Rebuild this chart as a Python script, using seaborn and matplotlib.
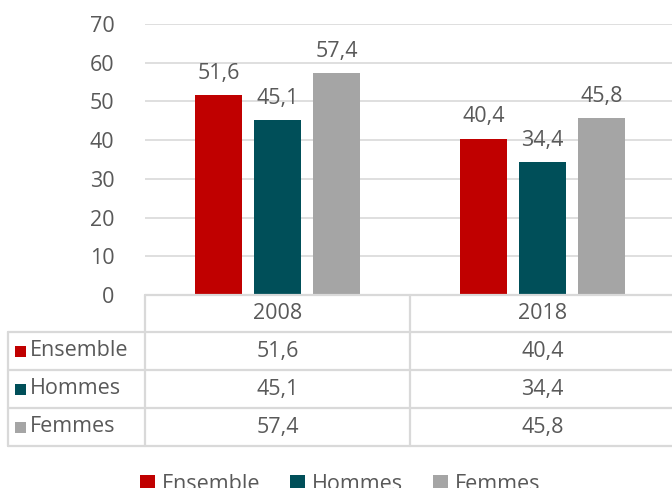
import matplotlib
matplotlib.use("Agg")
import matplotlib.pyplot as plt
import seaborn as sns
import pandas as pd
from matplotlib.lines import Line2D
from matplotlib.patches import Rectangle

years = ["2008", "2018"]
series = ["Ensemble", "Hommes", "Femmes"]
ensemble = [51.6, 40.4]
hommes = [45.1, 34.4]
femmes = [57.4, 45.8]
colors = ["#C00000", "#004F59", "#A5A5A5"]
yticks = [0, 10, 20, 30, 40, 50, 60, 70]

values = {"Ensemble": ensemble, "Hommes": hommes, "Femmes": femmes}
rows = []
for s in series:
    for y, v in zip(years, values[s]):
        rows.append({"year": y, "serie": s, "value": v})
df = pd.DataFrame(rows)

sns.set_theme(style="white")
plt.rcParams["font.family"] = ["Open Sans", "DejaVu Sans"]
txt = "#595959"
grid = "#D9D9D9"
FS = 15.5

W, H = 672, 488
fig = plt.figure(figsize=(W / 100, H / 100), dpi=100)

x0, x1 = 145, 675
ytop, ybot = 24, 295
ax = fig.add_axes([x0 / W, (H - ybot) / H, (x1 - x0) / W, (ybot - ytop) / H])
sns.barplot(data=df, x="year", y="value", hue="serie", hue_order=series,
            palette=colors, width=0.668, gap=0.22, ax=ax, legend=False,
            saturation=1, edgecolor="none")
ax.set_xlim(-0.5, 1.5)
ax.set_ylim(0, 70)
ax.set_yticks(yticks)
ax.set_yticklabels([str(t) for t in yticks], fontsize=FS, color=txt)
ax.tick_params(axis="y", length=0, pad=22)
ax.set_xticks([])
ax.set_xlabel("")
ax.set_ylabel("")
for sp in ax.spines.values():
    sp.set_visible(False)
ax.yaxis.grid(True, color=grid, linewidth=1.2)
ax.set_axisbelow(True)
for c in ax.containers:
    ax.bar_label(c, labels=[f"{v:.1f}".replace(".", ",") for v in c.datavalues],
                 padding=8, fontsize=FS, color=txt)

ov = fig.add_axes([0, 0, 1, 1])
ov.set_xlim(0, W)
ov.set_ylim(H, 0)
ov.axis("off")
lc = "#D9D9D9"
lw = 1.6
row_y = [295, 332, 370, 408, 446]
ov.add_line(Line2D([145, 680], [295, 295], color=lc, lw=lw))
for yy in row_y[1:]:
    ov.add_line(Line2D([8, 680], [yy, yy], color=lc, lw=lw))
ov.add_line(Line2D([8, 8], [332, 446], color=lc, lw=lw))
ov.add_line(Line2D([145, 145], [295, 446], color=lc, lw=lw))
ov.add_line(Line2D([410, 410], [295, 446], color=lc, lw=lw))

col_x = [277.5, 542.5]
for cx, yname in zip(col_x, years):
    ov.text(cx, (295 + 332) / 2, yname, ha="center", va="center", fontsize=FS, color=txt)
for i, s in enumerate(series):
    ymid = (row_y[i + 1] + row_y[i + 2]) / 2
    ov.add_patch(Rectangle((15, ymid - 5), 11, 11, color=colors[i], lw=0))
    ov.text(30, ymid, s, ha="left", va="center", fontsize=FS, color=txt)
    for cx, v in zip(col_x, values[s]):
        ov.text(cx, ymid, f"{v:.1f}".replace(".", ","), ha="center", va="center",
                fontsize=FS, color=txt)

handles = [Rectangle((0, 0), 1, 1, color=c, lw=0) for c in colors]
fig.legend(handles, series, loc="center", bbox_to_anchor=(340 / W, 1 - 485 / H),
           ncol=3, frameon=False, fontsize=FS, labelcolor=txt,
           handlelength=0.7, handleheight=0.7, handletextpad=0.3, columnspacing=1.4)

fig.savefig("out.png", dpi=100)
